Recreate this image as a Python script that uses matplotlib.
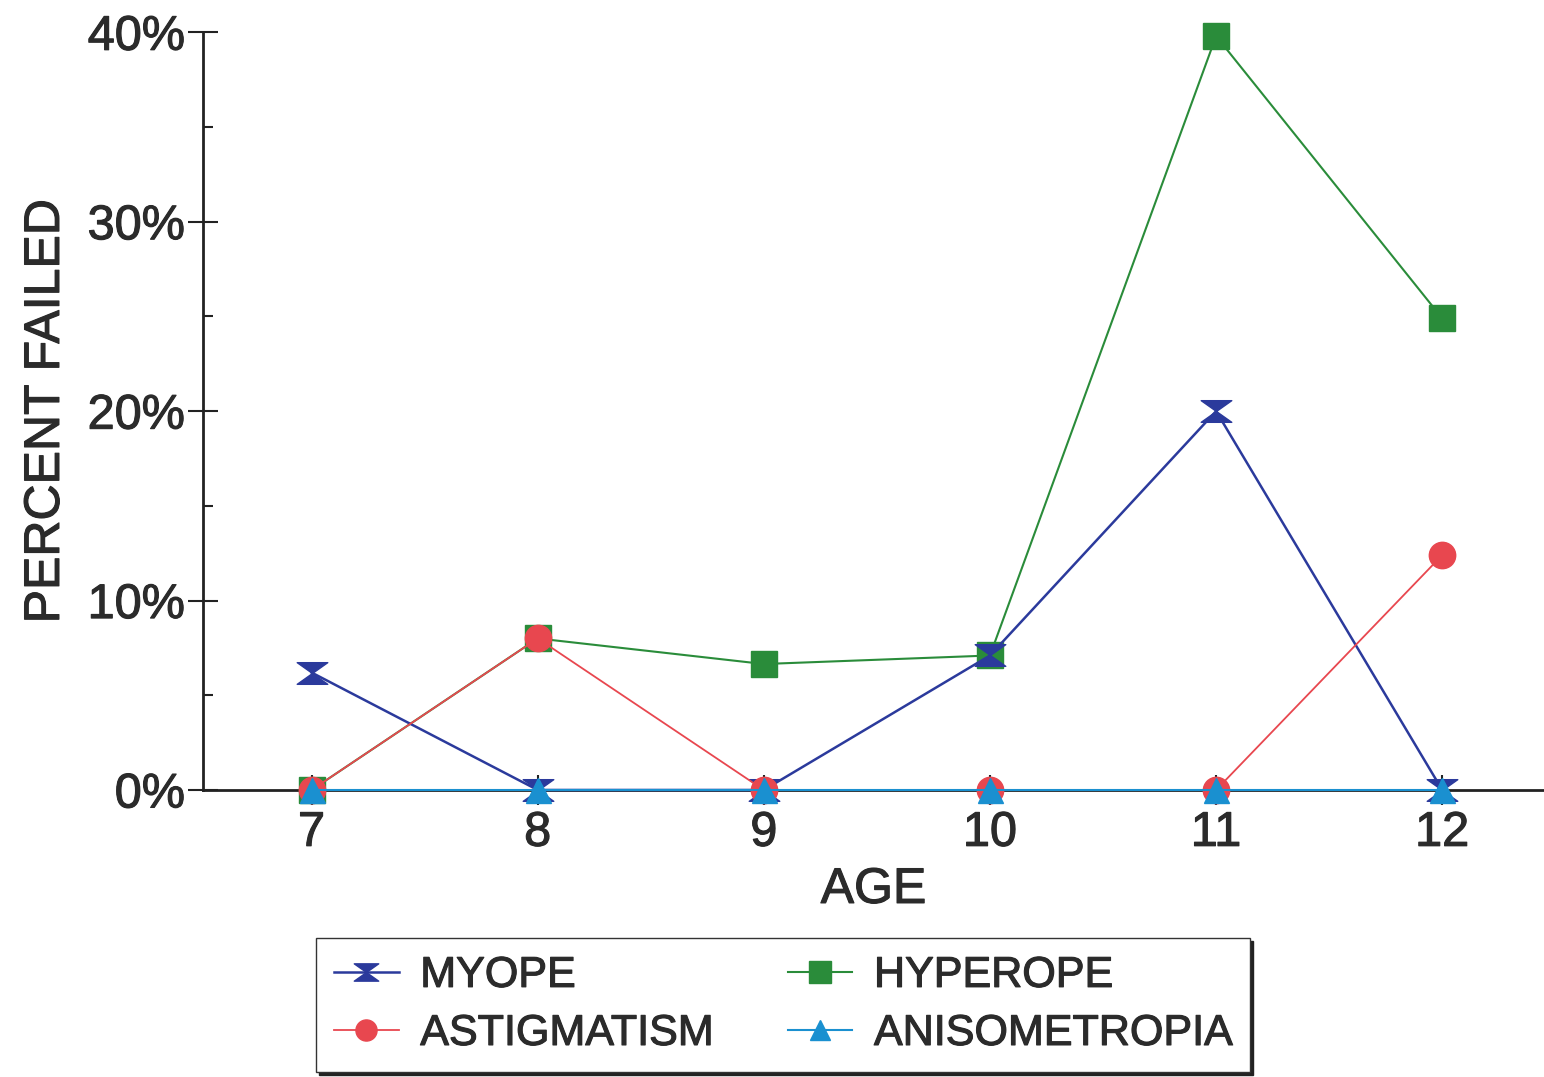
import numpy as np
import matplotlib.pyplot as plt
import matplotlib.patheffects as pe
from matplotlib.path import Path
from matplotlib.ticker import MultipleLocator, FuncFormatter

plt.rcParams['font.family'] = ['Liberation Sans', 'DejaVu Sans']

ages = [7, 8, 9, 10, 11, 12]
myope = [6.2, 0, 0, 7.1, 20.0, 0]
hyperope = [0, 8.0, 6.65, 7.1, 39.8, 24.9]
astigmatism = [0, 8.0, 0, 0, 0, 12.4]
anisometropia = [0, 0, 0, 0, 0, 0]

txt = '#2b2b2b'
heavy = [pe.withStroke(linewidth=0.8, foreground=txt)]
hourglass = Path([(-1.2, 0.85), (1.2, 0.85), (0, 0), (1.2, -0.85), (-1.2, -0.85), (0, 0), (-1.2, 0.85)],
                 [Path.MOVETO, Path.LINETO, Path.LINETO, Path.LINETO,
                  Path.LINETO, Path.LINETO, Path.CLOSEPOLY])

fig = plt.figure(figsize=(15.44, 10.77), dpi=100)
ax = fig.add_axes([0.1315, 0.2665, 0.8685, 0.7035])

h_hyp, = ax.plot(ages, hyperope, color='#2a8c3a', lw=1.5, marker='s', ms=19,
                 mec='#2a8c3a', label='HYPEROPE', clip_on=False, zorder=3)
h_myo, = ax.plot(ages, myope, color='#2b3a9c', lw=1.8, marker=hourglass, ms=22,
                 mec='#2b3a9c', label='MYOPE', clip_on=False, zorder=4)
h_ast, = ax.plot(ages, astigmatism, color='#e8474f', lw=1.3, marker='o', ms=19,
                 mec='#e8474f', label='ASTIGMATISM', clip_on=False, zorder=5)
h_ani, = ax.plot(ages, anisometropia, color='#1a90d0', lw=1.5, marker='^', ms=18,
                 mec='#1a90d0', label='ANISOMETROPIA', clip_on=False, zorder=6)

ax.set_xlim(6.52, 12.45)
ax.set_ylim(0, 40)
ax.set_xticks(ages)
ax.yaxis.set_major_locator(MultipleLocator(10))
ax.yaxis.set_minor_locator(MultipleLocator(5))
ax.yaxis.set_major_formatter(FuncFormatter(lambda v, p: f'{v:.0f}%'))

for s in ['top', 'right']:
    ax.spines[s].set_visible(False)
for s in ['left', 'bottom']:
    ax.spines[s].set_linewidth(2)
    ax.spines[s].set_color('#222222')

ax.tick_params(axis='both', which='major', direction='inout', length=22,
               width=1.5, color='#222222', labelsize=35, labelcolor=txt, pad=2)
ax.tick_params(axis='y', which='minor', direction='in', length=7, width=1.5,
               color='#222222')
ax.tick_params(axis='x', which='major', pad=4)
for t in ax.get_xticklabels() + ax.get_yticklabels():
    t.set_path_effects(heavy)

ax.set_xlabel('AGE', fontsize=36, color=txt, labelpad=8, path_effects=heavy)
ax.set_ylabel('PERCENT FAILED', fontsize=36, color=txt, path_effects=heavy)
ax.yaxis.set_label_coords(-0.10, 0.5)

leg = fig.legend(handles=[h_myo, h_ast, h_hyp, h_ani], ncol=2,
                 loc='lower left', bbox_to_anchor=(0.2047, 0.0046, 0.605, 0.122),
                 mode='expand', fontsize=31, frameon=True, fancybox=False,
                 shadow={'color': '#222222', 'alpha': 1}, edgecolor='#333333',
                 handlelength=1.5, handletextpad=0.5, columnspacing=2.0,
                 labelspacing=0.42, borderpad=0.42, borderaxespad=0, markerscale=0.8)
for t in leg.get_texts():
    t.set_color(txt)
    t.set_path_effects(heavy)

fig.savefig('out.png', dpi=100)
